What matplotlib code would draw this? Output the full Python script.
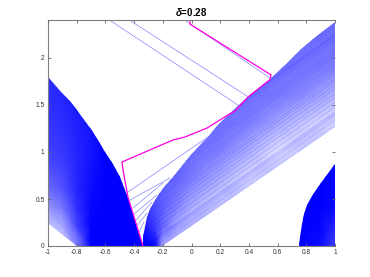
import matplotlib
matplotlib.use("Agg")
import matplotlib.pyplot as plt
from matplotlib.colors import LinearSegmentedColormap
from matplotlib.patches import Polygon

plt.rcParams["font.family"] = ["Liberation Sans", "DejaVu Sans"]
plt.rcParams["mathtext.fontset"] = "custom"
plt.rcParams["mathtext.it"] = "Liberation Sans:italic:bold"

x_ticks = [-1, -0.8, -0.6, -0.4, -0.2, 0, 0.2, 0.4, 0.6, 0.8, 1]
x_labels = ["-1", "-0.8", "-0.6", "-0.4", "-0.2", "0", "0.2", "0.4", "0.6", "0.8", "1"]
y_ticks = [0, 0.5, 1, 1.5, 2]
y_labels = ["0", "0.5", "1", "1.5", "2"]

# magenta path
path_x = [-0.01, -0.01, 0.554, 0.547, 0.394, 0.303, 0.254, 0.108, -0.045, -0.129, -0.484, -0.477, -0.443, -0.338]
path_y = [2.4, 2.36, 1.82, 1.77, 1.585, 1.436, 1.394, 1.255, 1.16, 1.128, 0.894, 0.809, 0.521, 0]

# left region outline
left_x = [-1, -0.95, -0.9, -0.85, -0.8, -0.75, -0.7, -0.65, -0.6, -0.55, -0.5, -0.46, -0.43, -0.40, -0.37, -0.338, -0.8, -1]
left_y = [1.80, 1.715, 1.63, 1.54, 1.445, 1.345, 1.24, 1.125, 1.005, 0.875, 0.735, 0.60, 0.46, 0.31, 0.16, 0, 0, 0.245]

# left region shade, 0 is pure blue and 1 is white
left_grid_x = [-1, -0.9, -0.8, -0.7, -0.6, -0.5, -0.4, -0.33]
left_grid_y = [0, 0.2, 0.4, 0.6, 0.9, 1.2, 1.5, 1.8]
left_shade = [
    [0.95, 0.95, 0.60, 0.00, 0, 0, 0, 0],
    [0.82, 0.72, 0.30, 0.00, 0, 0, 0, 0],
    [0.62, 0.50, 0.20, 0.03, 0, 0, 0, 0],
    [0.45, 0.35, 0.16, 0.05, 0, 0, 0, 0],
    [0.30, 0.25, 0.16, 0.08, 0, 0, 0, 0],
    [0.24, 0.20, 0.14, 0.08, 0, 0, 0, 0],
    [0.20, 0.16, 0.10, 0.08, 0, 0, 0, 0],
    [0.18, 0.14, 0.10, 0.08, 0, 0, 0, 0],
]

left_x0 = [-0.8, -0.795, -0.79, -0.785, -0.78, -0.775, -0.77, -0.76, -0.75, -0.74, -0.73, -0.72, -0.71, -0.70, -0.69,
           -0.68, -0.67, -0.66, -0.65, -0.64, -0.63, -0.62, -0.61, -0.60, -0.59, -0.58, -0.57, -0.56, -0.55, -0.54,
           -0.53, -0.52, -0.51, -0.50, -0.49, -0.48, -0.47, -0.46, -0.45, -0.44, -0.43, -0.42, -0.41, -0.40, -0.39, -0.37, -0.35]
left_y1 = [0.245, 0.27, 0.30, 0.33, 0.36, 0.39, 0.42, 0.46, 0.50, 0.53, 0.56, 0.59, 0.62, 0.65, 0.68,
           0.71, 0.74, 0.77, 0.80, 0.83, 0.86, 0.89, 0.92, 0.95, 0.98, 1.01, 1.04, 1.07, 1.10, 1.13,
           1.16, 1.19, 1.22, 1.25, 1.28, 1.31, 1.34, 1.37, 1.40, 1.44, 1.48, 1.52, 1.56, 1.60, 1.65, 1.72, 1.80]

# middle band outline
band_x = [-0.338, -0.335, -0.325, -0.31, -0.28, -0.24, -0.19, -0.129, -0.07, -0.01, 0.05, 0.115, 0.18, 0.254, 0.33,
          0.408, 0.48, 0.547, 0.65, 0.756, 0.88, 1, 1, -0.205]
band_y = [0, 0.1, 0.2, 0.309, 0.42, 0.521, 0.625, 0.734, 0.845, 0.957, 1.06, 1.16, 1.28, 1.394, 1.5,
          1.606, 1.69, 1.777, 1.93, 2.085, 2.24, 2.383, 1.27, 0]

band_grid_x = [-0.36, -0.3, -0.25, -0.2, -0.1, 0, 0.2, 0.4, 0.6, 0.8, 1.0]
band_grid_y = [0, 0.2, 0.4, 0.7, 1.0, 1.3, 1.6, 1.9, 2.2, 2.4]
band_shade = [
    [0.00, 0.00, 0.05, 0.75, 0.88, 0.88, 0.88, 0.88, 0.88, 0.88, 0.88],
    [0.00, 0.15, 0.25, 0.40, 0.68, 0.82, 0.88, 0.88, 0.88, 0.88, 0.88],
    [0.15, 0.25, 0.32, 0.38, 0.52, 0.68, 0.88, 0.88, 0.88, 0.88, 0.88],
    [0.35, 0.38, 0.38, 0.38, 0.42, 0.50, 0.68, 0.88, 0.88, 0.88, 0.88],
    [0.42, 0.42, 0.42, 0.42, 0.42, 0.45, 0.52, 0.68, 0.88, 0.88, 0.88],
    [0.42, 0.42, 0.42, 0.42, 0.42, 0.42, 0.45, 0.52, 0.66, 0.80, 0.90],
    [0.45, 0.45, 0.45, 0.45, 0.45, 0.45, 0.45, 0.45, 0.50, 0.58, 0.70],
    [0.45, 0.45, 0.45, 0.45, 0.45, 0.45, 0.45, 0.45, 0.45, 0.48, 0.52],
    [0.45, 0.45, 0.45, 0.45, 0.45, 0.45, 0.45, 0.45, 0.45, 0.45, 0.45],
    [0.45, 0.45, 0.45, 0.45, 0.45, 0.45, 0.45, 0.45, 0.45, 0.45, 0.45],
]

band_x0 = [-0.205, -0.215, -0.225, -0.24, -0.25, -0.26, -0.275, -0.29, -0.30, -0.315, -0.325, -0.335, -0.335, -0.334,
           -0.334, -0.33, -0.325, -0.31, -0.295, -0.275, -0.26, -0.24, -0.21, -0.18, -0.155, -0.13, -0.10, -0.07,
           -0.04, -0.01, 0.03, 0.07, 0.115, 0.16, 0.21, 0.255, 0.31, 0.36, 0.41, 0.48, 0.55, 0.62, 0.69, 0.76, 0.83]
band_y0 = [0, 0, 0, 0, 0, 0, 0, 0, 0, 0, 0, 0, 0.05, 0.10,
           0.15, 0.20, 0.25, 0.31, 0.36, 0.41, 0.47, 0.52, 0.58, 0.64, 0.69, 0.735, 0.79, 0.85,
           0.90, 0.955, 1.02, 1.09, 1.16, 1.24, 1.32, 1.395, 1.47, 1.54, 1.605, 1.69, 1.78, 1.88, 1.98, 2.09, 2.18]
band_y1 = [1.27, 1.285, 1.30, 1.32, 1.335, 1.345, 1.36, 1.38, 1.39, 1.405, 1.415, 1.43, 1.48, 1.53,
           1.58, 1.62, 1.67, 1.71, 1.75, 1.78, 1.82, 1.85, 1.875, 1.90, 1.925, 1.945, 1.97, 2.0,
           2.02, 2.04, 2.06, 2.08, 2.105, 2.14, 2.17, 2.19, 2.21, 2.23, 2.24, 2.25, 2.265, 2.30, 2.33, 2.35, 2.37]

# bottom right region
right_x = [0.749, 0.755, 0.770, 0.785, 0.805, 0.84, 0.882, 0.94, 1, 1]
right_y = [0, 0.1, 0.234, 0.34, 0.436, 0.535, 0.628, 0.75, 0.872, 0]
right_grid_x = [0.74, 0.9, 1]
right_grid_y = [0, 0.4, 0.9]
right_shade = [[0, 0.05, 0.25], [0, 0, 0.05], [0, 0, 0]]

# single thin lines: fan under the path and the three at the top
thin_x0 = [-0.443, -0.429, -0.408, -0.401, -0.387, -0.38, -0.366, -0.429, -0.568, -0.045]
thin_y0 = [0.574, 0.489, 0.404, 0.34, 0.277, 0.213, 0.149, 2.4, 2.4, 2.4]
thin_x1 = [0.143, -0.15, -0.199, -0.24, -0.275, -0.31, -0.331, 0.408, 0.324, 0.547]
thin_y1 = [1.19, 0.723, 0.67, 0.543, 0.468, 0.351, 0.255, 1.574, 1.5, 1.787]

blue_white = LinearSegmentedColormap.from_list("blue_white", ["#0000ff", "#ffffff"])

fig = plt.figure(figsize=(3.7, 2.77), dpi=100)
ax = fig.add_axes([48 / 370, 31 / 277, 287 / 370, 225.6 / 277])


def shaded(px, py, gx, gy, shade):
    # gradient clipped to the outline of the region
    mesh = ax.pcolormesh(gx, gy, shade, shading="gouraud", cmap=blue_white, vmin=0, vmax=1)
    outline = Polygon(list(zip(px, py)), closed=True, transform=ax.transData, fc="none", ec="none")
    ax.add_patch(outline)
    mesh.set_clip_path(outline)


shaded(left_x, left_y, left_grid_x, left_grid_y, left_shade)
for i in range(len(left_x0)):
    ax.plot([left_x0[i], -1], [0, left_y1[i]], color="#0000ff", lw=0.15, alpha=0.4)

shaded(band_x, band_y, band_grid_x, band_grid_y, band_shade)
for i in range(len(band_x0)):
    ax.plot([band_x0[i], 1], [band_y0[i], band_y1[i]], color="#0000ff", lw=0.25, alpha=0.35)

shaded(right_x, right_y, right_grid_x, right_grid_y, right_shade)

for i in range(len(thin_x0)):
    ax.plot([thin_x0[i], thin_x1[i]], [thin_y0[i], thin_y1[i]], color="#7878ff", lw=0.45)

ax.plot(path_x, path_y, color="#ff00e0", lw=0.9, solid_joinstyle="miter")

ax.set_xlim(-1, 1)
ax.set_ylim(0, 2.4)
ax.set_xticks(x_ticks)
ax.set_xticklabels(x_labels)
ax.set_yticks(y_ticks)
ax.set_yticklabels(y_labels)
ax.set_axisbelow(False)
ax.tick_params(direction="in", top=True, right=True, length=2.5, width=0.6, color="#666666",
               labelsize=4.8, labelcolor="#333333", pad=2.5)
for side in ["left", "bottom", "top"]:
    ax.spines[side].set_color("#808080")
    ax.spines[side].set_linewidth(0.8)
ax.spines["right"].set_visible(False)

ax.set_title(r"$\delta$=0.28", fontsize=7, fontweight="bold", pad=3.5)

fig.savefig("out.png", dpi=100)
